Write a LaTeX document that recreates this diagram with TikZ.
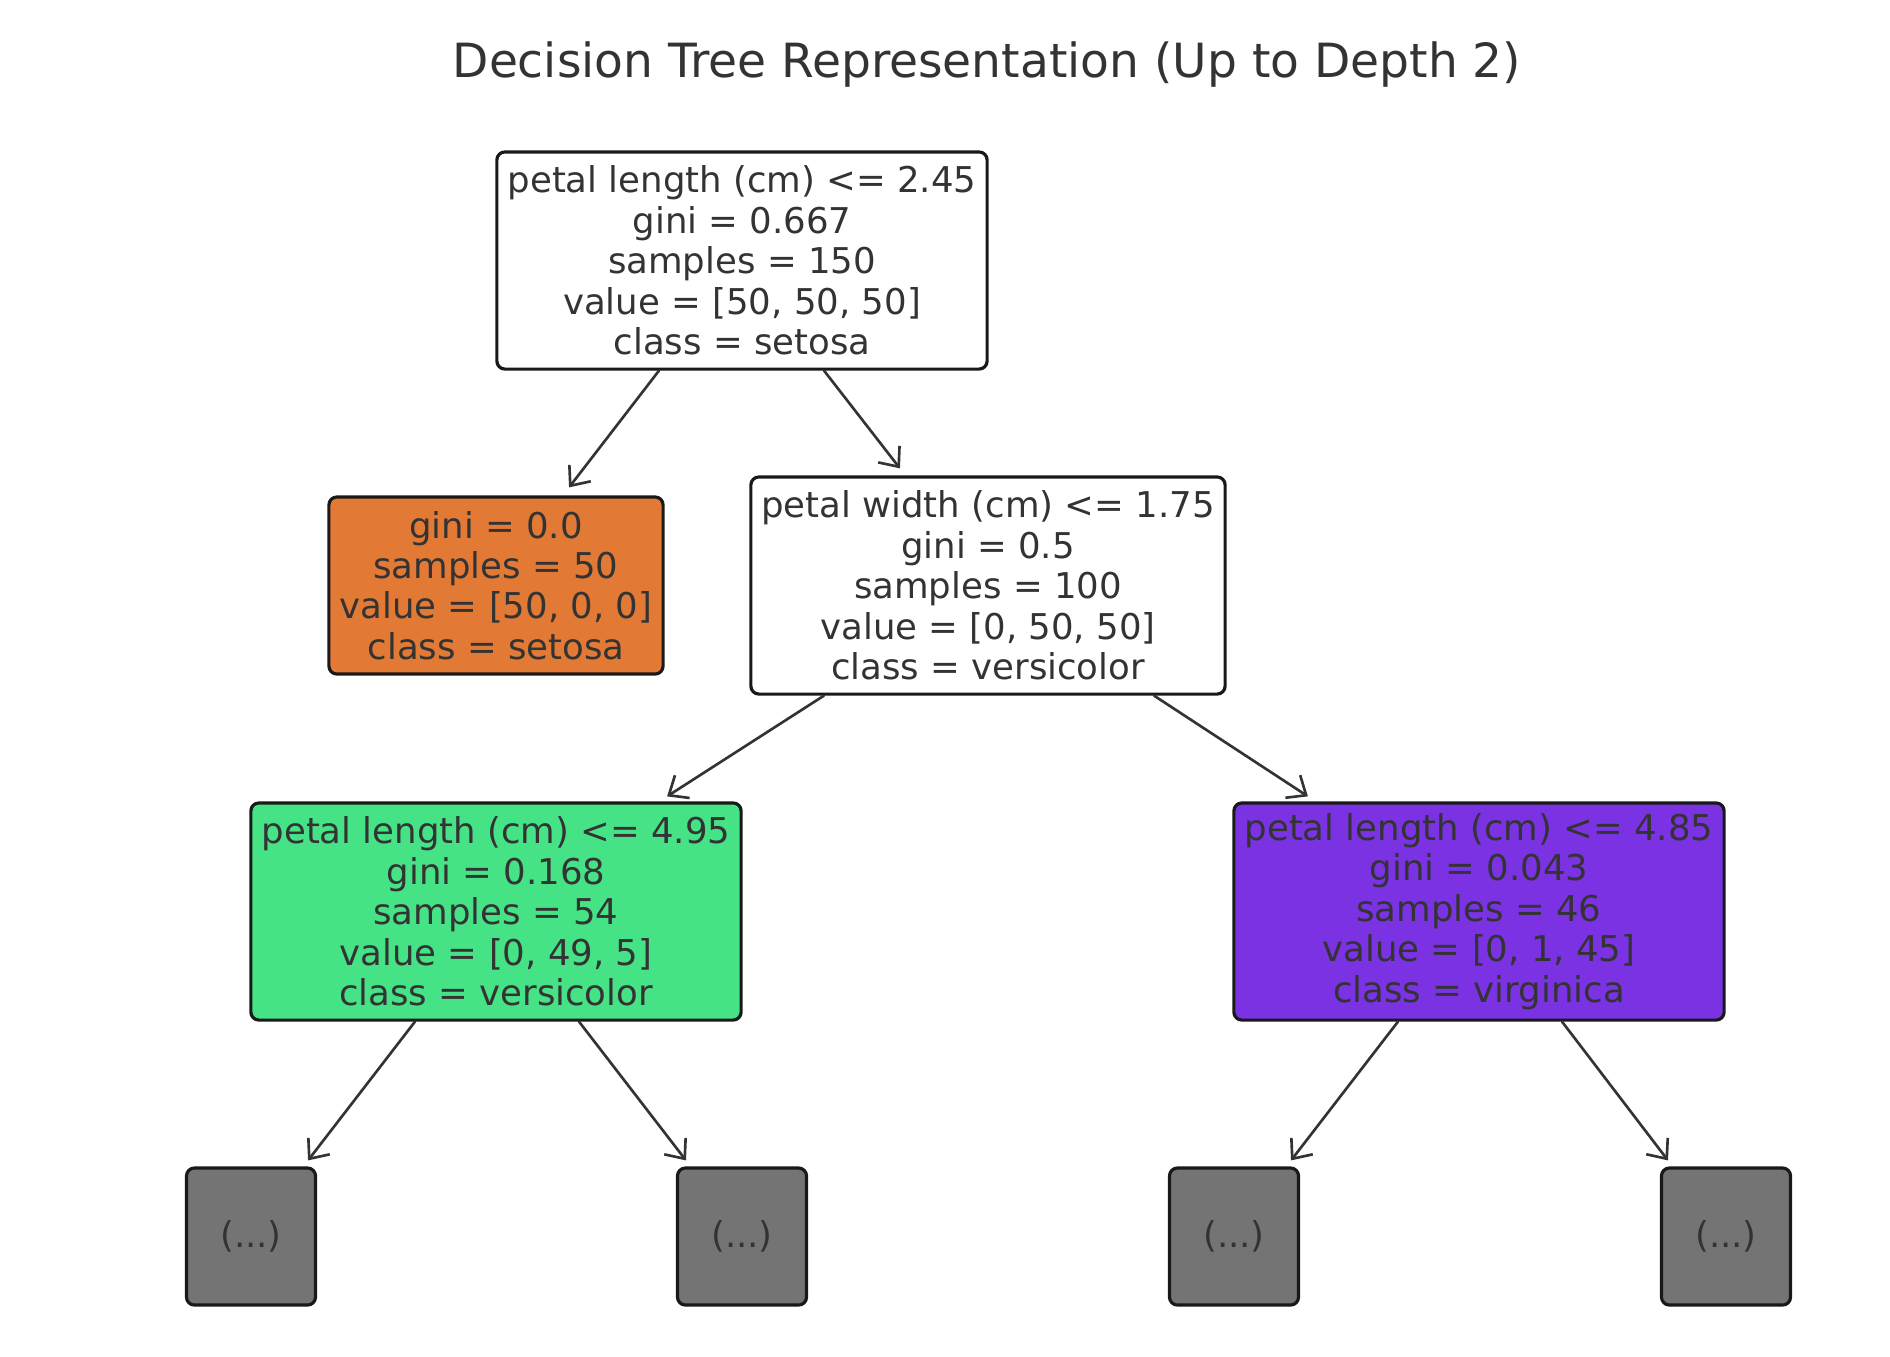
\documentclass[tikz,border=0pt]{standalone}
\usepackage{fontspec}
\setmainfont{DejaVu Sans}
\usetikzlibrary{arrows.meta}
\definecolor{txt}{HTML}{333333}
\definecolor{setosa}{HTML}{E27A36}
\definecolor{versicolor}{HTML}{46E386}
\definecolor{virginica}{HTML}{7A32E2}
\definecolor{hidden}{HTML}{747474}
\begin{document}
\begin{tikzpicture}[x=0.01cm,y=-0.01cm,>={Straight Barb[length=1.6mm,width=2.7mm]},line join=round,line cap=round,
	box/.style={draw=black!90,line width=0.9pt,rounded corners=0.08cm,align=center,text=txt,inner sep=0pt,
		font=\fontsize{10.1}{11.5}\selectfont,minimum width=4.9cm,minimum height=2.17cm},
	dots/.style={box,fill=hidden,minimum width=1.29cm,minimum height=1.37cm},
	arr/.style={->,draw=txt,line width=0.75pt}]
	\useasboundingbox (0,0) rectangle (1890,1356);
	\node[text=txt,font=\fontsize{13.4}{16}\selectfont] (title) at (987,64) {Decision Tree Representation (Up to Depth 2)};
	% depth 0 and 1
	\node[box] (root) at (742,260.5) {petal length (cm) <= 2.45\\gini = 0.667\\samples = 150\\value = [50, 50, 50]\\class = setosa};
	\node[box,fill=setosa,minimum width=3.34cm,minimum height=1.77cm] (leaf) at (496,585.5) {gini = 0.0\\samples = 50\\value = [50, 0, 0]\\class = setosa};
	\node[box,minimum width=4.74cm] (width) at (988,585.5) {petal width (cm) <= 1.75\\gini = 0.5\\samples = 100\\value = [0, 50, 50]\\class = versicolor};
	% depth 2
	\node[box,fill=versicolor] (left) at (496,911.5) {petal length (cm) <= 4.95\\gini = 0.168\\samples = 54\\value = [0, 49, 5]\\class = versicolor};
	\node[box,fill=virginica] (right) at (1479,911.5) {petal length (cm) <= 4.85\\gini = 0.043\\samples = 46\\value = [0, 1, 45]\\class = virginica};
	\node[dots] (d1) at (251,1236.5) {(...)};
	\node[dots] (d2) at (742,1236.5) {(...)};
	\node[dots] (d3) at (1234,1236.5) {(...)};
	\node[dots] (d4) at (1726,1236.5) {(...)};
	% edges
	\draw[arr] ([xshift=-0.83cm]root.south) -- ([xshift=0.73cm,yshift=0.08cm]leaf.north);
	\draw[arr] ([xshift=0.82cm]root.south) -- ([xshift=-0.88cm,yshift=0.07cm]width.north);
	\draw[arr] ([xshift=-1.64cm]width.south) -- ([xshift=1.71cm,yshift=0.05cm]left.north);
	\draw[arr] ([xshift=1.66cm]width.south) -- ([xshift=-1.71cm,yshift=0.05cm]right.north);
	\draw[arr] ([xshift=-0.81cm]left.south) -- ([xshift=0.57cm,yshift=0.06cm]d1.north);
	\draw[arr] ([xshift=0.83cm]left.south) -- ([xshift=-0.56cm,yshift=0.06cm]d2.north);
	\draw[arr] ([xshift=-0.81cm]right.south) -- ([xshift=0.57cm,yshift=0.06cm]d3.north);
	\draw[arr] ([xshift=0.83cm]right.south) -- ([xshift=-0.58cm,yshift=0.06cm]d4.north);
\end{tikzpicture}
\end{document}
